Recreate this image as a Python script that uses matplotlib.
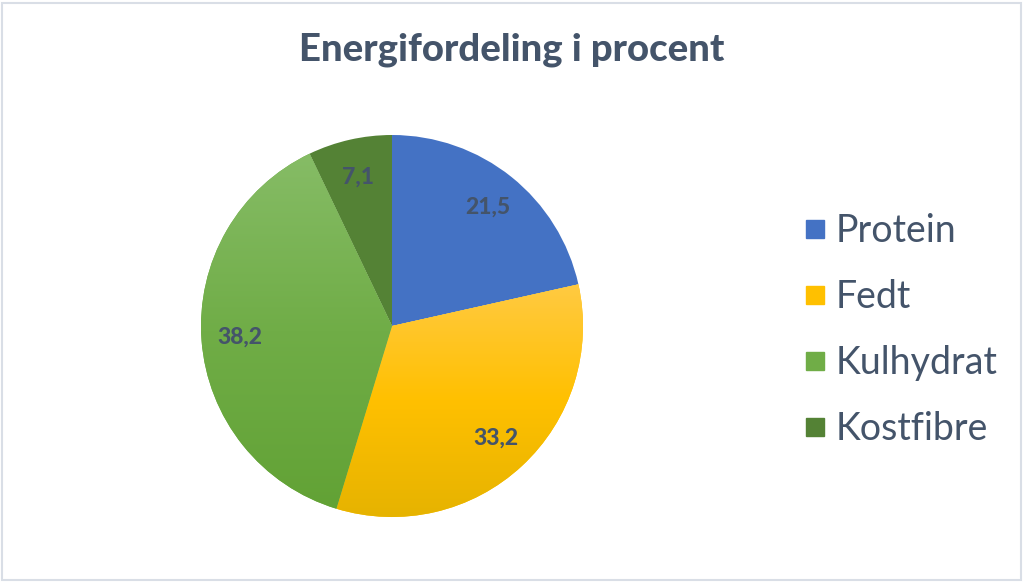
import numpy as np
import matplotlib
matplotlib.use('Agg')
import matplotlib.pyplot as plt
from matplotlib.colors import LinearSegmentedColormap
from matplotlib.lines import Line2D
from matplotlib.patches import Rectangle

plt.rcParams['font.family'] = ['Lato', 'DejaVu Sans']

kategorier = ['Protein', 'Fedt', 'Kulhydrat', 'Kostfibre']
vaerdier = [21.5, 33.2, 38.2, 7.1]
farver = ['#4472C4', '#FFC000', '#70AD47', '#548235']
# top/midte/bund farver til gradient (None = ensfarvet)
gradienter = [None, ('#FFCA42', '#FFC000', '#E6B300'), ('#86BC66', '#70AD47', '#62A235'), None]
tekstfarve = '#44546A'

fig = plt.figure(figsize=(10.24, 5.82), dpi=100)
fig.patches.append(Rectangle((0.002, 0.004), 0.995, 0.991, transform=fig.transFigure,
                             fill=False, edgecolor='#D9DEE6', linewidth=1.5))

# pie placering i pixels: centrum (392, 326), radius 191
cx, cy, r = 392, 326, 191
ax = fig.add_axes([(cx - r) / 1024, (582 - cy - r) / 582, 2 * r / 1024, 2 * r / 582])

wedges, tekster, procenter = ax.pie(
    vaerdier, colors=farver, startangle=90, counterclock=False,
    autopct=lambda p: f'{p:.1f}'.replace('.', ','), pctdistance=0.8,
    wedgeprops=dict(linewidth=0),
    textprops=dict(color=tekstfarve, fontsize=16.5, fontweight='black'))

# gradient i Fedt og Kulhydrat
for w, g in zip(wedges, gradienter):
    if g is None:
        continue
    cmap = LinearSegmentedColormap.from_list('g', [g[2], g[1], g[0]])
    grad = np.linspace(0, 1, 256).reshape(-1, 1)
    bb = w.get_path().get_extents()
    im = ax.imshow(grad, cmap=cmap, extent=[bb.x0, bb.x1, bb.y0, bb.y1], origin='lower',
                   aspect='auto', zorder=w.get_zorder())
    im.set_clip_path(w)
ax.set_xlim(-1, 1)
ax.set_ylim(-1, 1)
ax.set_aspect('equal')
for t in procenter:
    t.set_zorder(5)

fig.text(0.5, 0.915, 'Energifordeling i procent', ha='center', va='center',
         fontsize=27.5, fontweight='black', color=tekstfarve)

handles = [Line2D([], [], marker='s', linestyle='none', markersize=13,
                  markerfacecolor=c, markeredgecolor=c) for c in farver]
fig.legend(handles, kategorier, loc='center left', bbox_to_anchor=(0.745, 0.433),
           frameon=False, fontsize=27, labelcolor=tekstfarve, handletextpad=0.05,
           labelspacing=0.8, handlelength=1.0)

fig.savefig('out.png', dpi=100)
